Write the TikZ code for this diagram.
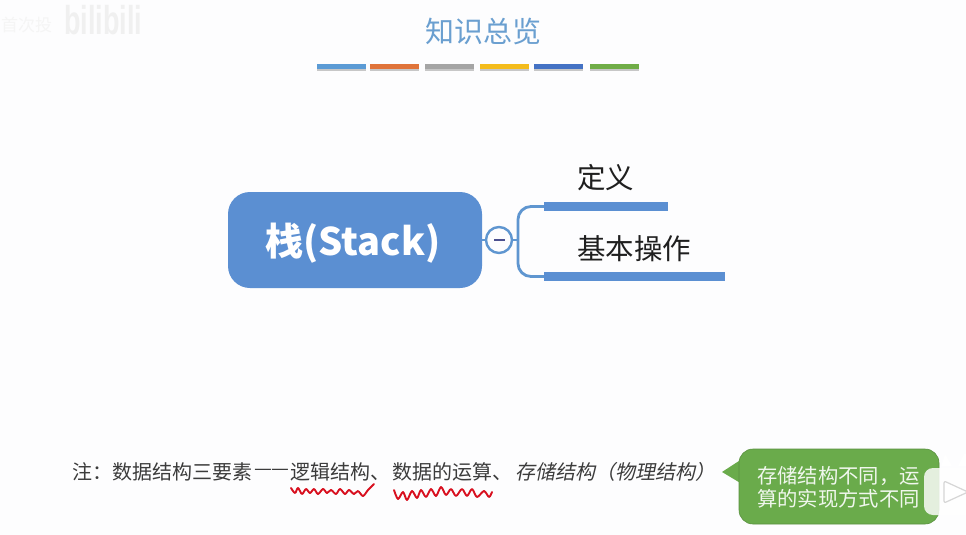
\documentclass[tikz,border=0pt]{standalone}
\usepackage{fontspec}
\setmainfont{Noto Sans CJK SC}
\newfontfamily\slantfont[FakeSlant=0.2]{Noto Sans CJK SC}
\newfontfamily\latinbold{Liberation Sans}[BoldFont={Liberation Sans Bold}]
\usetikzlibrary{shapes.geometric}
\definecolor{bgc}{HTML}{FDFDFE}
\definecolor{mainblue}{HTML}{5B8FD2}
\definecolor{titleblue}{HTML}{6A9FD0}
\definecolor{linkblue}{HTML}{5F96D0}
\definecolor{bubble}{HTML}{6AAB4B}
\definecolor{noteink}{HTML}{3C3C3C}
\definecolor{inkred}{HTML}{D8101F}
\tikzset{
  x=1pt,y=-1pt,
  palette/.style={draw=none,minimum width=49pt,minimum height=5pt,inner sep=0pt,outer sep=0pt},
  branchbar/.style={fill=mainblue,draw=none,minimum height=9pt,inner sep=0pt,outer sep=0pt,anchor=west},
  branchtext/.style={inner sep=0pt,anchor=west,font=\fontsize{28.5}{30}\selectfont,text=black!88},
  link/.style={draw=linkblue,line width=2.8pt,rounded corners=13pt},
  notetext/.style={inner sep=0pt,anchor=west,text=noteink,font=\fontsize{20}{22}\selectfont},
  wavy/.style={draw=inkred,line width=1.9pt,line cap=round,line join=round},
  watermark/.style={inner sep=0pt,text=black!6},
}
\begin{document}
\begin{tikzpicture}
\useasboundingbox (0,0) rectangle (966,535);
\fill[bgc] (0,0) rectangle (966,535);
% watermark
\node[watermark,font=\bfseries\latinbold\fontsize{31}{31}\selectfont,anchor=west,xscale=.87,yscale=1.3] (wm) at (64,20) {bilibili};
\node[watermark,font=\fontsize{17}{17}\selectfont,anchor=west,text=black!4] (wmb) at (1,25) {首次投};
% title
\node[inner sep=0pt,text=titleblue,font=\fontsize{29}{31}\selectfont] (title) at (483,31) {知识总览};
\foreach \n/\xa/\c in {a/341.5/5B9BD5,b/394.5/E0743A,c/449.5/A5A5A5,d/504.5/F4BC1C,e/558.5/4472C4,f/614/70AD47}{
  \definecolor{pc}{HTML}{\c}
  \node[palette,fill=black!22] (s\n) at (\xa,68.2) {};
  \node[palette,fill=pc] (p\n) at (\xa,66.4) {};
}
% main node
\node[fill=mainblue,draw=none,rounded corners=22pt,minimum width=254pt,minimum height=96pt,inner sep=0pt,outer sep=0pt] (stack) at (355,240) {};
\node[inner sep=0pt,text=white,font=\bfseries\fontsize{38}{40}\selectfont] (stacklabel) at (353,243) {栈(Stack)};
% bars & labels
\node[branchbar,minimum width=124pt] (bara) at (544,206.5) {};
\node[branchbar,minimum width=181pt] (barb) at (544,276.5) {};
\node[branchtext] (defn) at (577,178) {定义};
\node[branchtext] (ops) at (577,249) {基本操作};
% collapse button
\node[circle,fill=bgc,draw=linkblue,line width=2.4pt,minimum size=26pt,inner sep=0pt] (btn) at (499,240) {};
\coordinate (fork) at (518,240);
\draw[link] (stack.east) -- (btn.west);
\draw[link] (btn.east) -- (fork);
\draw[link] (bara.west) -| (fork) |- (barb.west);
\node[fill=black!30!mainblue!80!violet,draw=none,minimum width=11pt,minimum height=2.2pt,inner sep=0pt] (minus) at (btn.center) {};
% note
\node[notetext] (n1) at (72,472) {注：数据结构三要素};
\node[notetext] (d1) at (254,472) {—};
\node[notetext] (d2) at (271,472) {—};
\node[notetext] (n1b) at (290,472) {逻辑结构、};
\node[notetext] (n1c) at (392,472) {数据的运算、};
\node[notetext,font=\slantfont\fontsize{20}{22}\selectfont] (n2) at (515,472) {存储结构（物理结构）};
% red underlines
\draw[wavy] plot[smooth,tension=.5] coordinates {(291,488)(295,493)(298,488)(302,494)(306,489)(310,493)(314,489)(318,494)(323,489)(327,493)(331,490)(336,494)(340,489)(345,494)(349,490)(354,494)(358,491)(363,496)(368,490)(374,484)};
\draw[wavy] plot[smooth,tension=.5] coordinates {(394,490)(398,499)(403,492)(407,500)(412,491)(417,498)(421,490)(426,497)(431,489)(436,496)(441,487)(446,495)(451,489)(456,496)(462,489)(467,496)(472,489)(477,497)(484,491)(489,497)(492,492)};
% bubble
\path (742,459) coordinate (tipa) (722,472) coordinate (tip) (742,484) coordinate (tipb);
\fill[bubble] (tipa) -- (tip) -- (tipb) -- cycle;
\node[fill=bubble,draw=bubble!85!black,line width=.6pt,rounded corners=14pt,minimum width=200pt,minimum height=75pt,inner sep=0pt] (bub) at (839,486.5) {};
\node[inner sep=0pt,text=white!90!bubble,anchor=west,font=\fontsize{20.3}{23.5}\selectfont,align=left] (bubt) at (757,487.5) {存储结构不同，运\\算的实现方式不同};
% play badge
\fill[white] (941,466) -- (945,454) -- (952,466) (958,466) -- (964,454) -- (966,454) -- (966,466) -- cycle;
\fill[white,opacity=.82,rounded corners=9pt] (924,468) rectangle (985,515);
\draw[black!16,fill=white,line width=1.2pt,line join=round,rounded corners=2pt] (944,481) -- (968,492) -- (944,503) -- cycle;
\end{tikzpicture}
\end{document}
